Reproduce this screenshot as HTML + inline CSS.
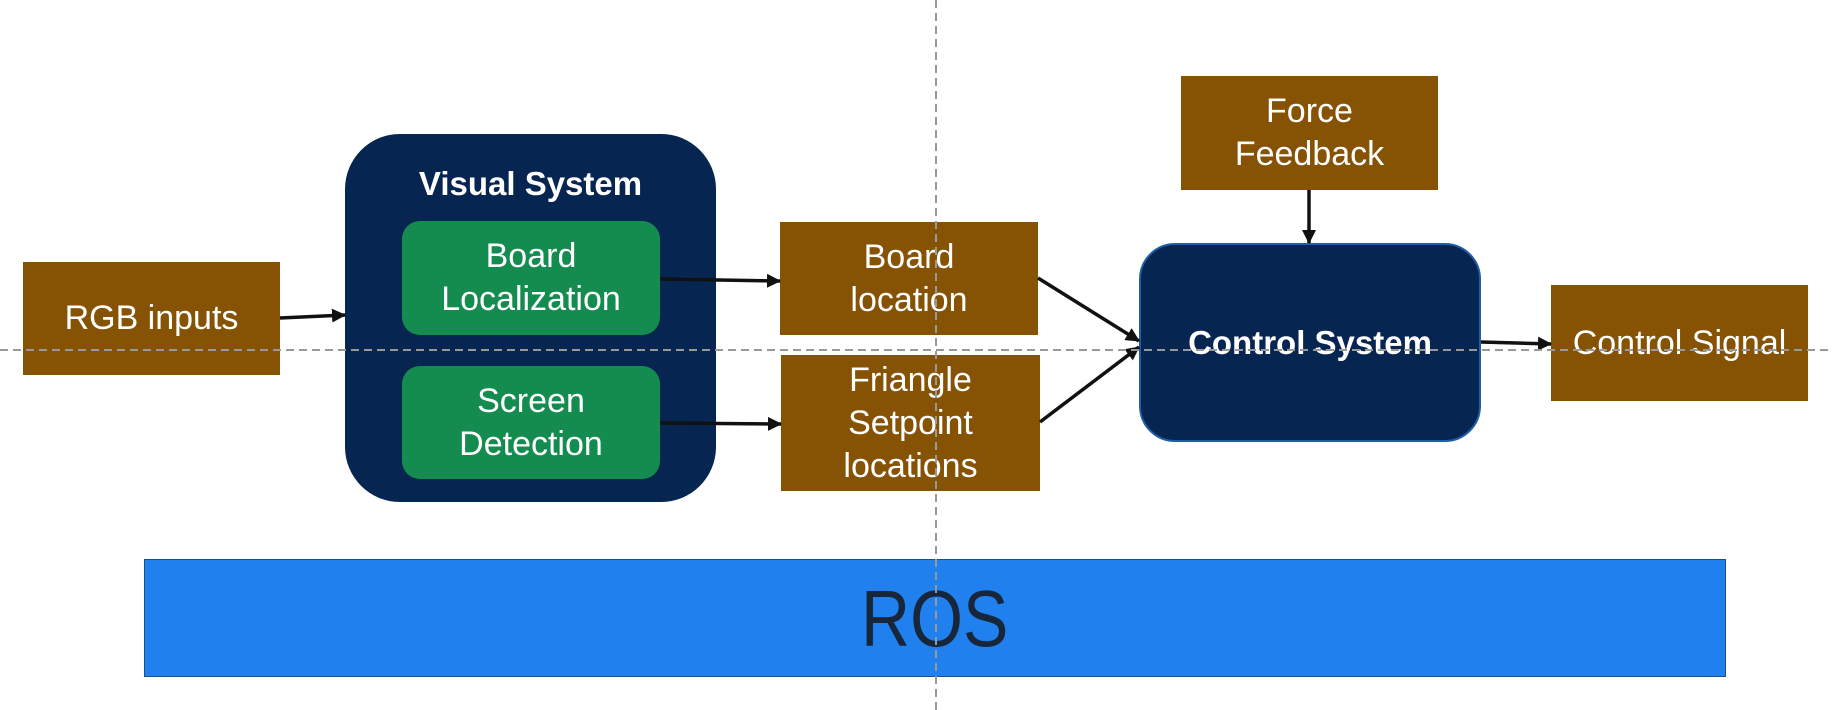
<!DOCTYPE html>
<html><head><style>
body{margin:0;width:1832px;height:710px;background:#fff;position:relative;overflow:hidden;font-family:"Liberation Sans",sans-serif}
.b{position:absolute;display:flex;align-items:center;justify-content:center;text-align:center;color:#fff;font-size:34px;line-height:43px;box-sizing:border-box}
.br{background:#865203}
.g{background:#148c50;border-radius:18px}
</style></head><body>
<div class="b" style="left:345px;top:134px;width:371px;height:368px;background:#062551;border-radius:55px;align-items:flex-start;padding-top:28px;font-weight:bold;font-size:33px">Visual System</div>
<div class="b br" style="left:23px;top:262px;width:257px;height:113px">RGB inputs</div>
<div class="b g" style="left:402px;top:221px;width:258px;height:114px">Board<br>Localization</div>
<div class="b g" style="left:402px;top:366px;width:258px;height:113px">Screen<br>Detection</div>
<div class="b br" style="left:780px;top:222px;width:258px;height:113px">Board<br>location</div>
<div class="b br" style="left:781px;top:355px;width:259px;height:136px">Friangle<br>Setpoint<br>locations</div>
<div class="b br" style="left:1181px;top:76px;width:257px;height:114px">Force<br>Feedback</div>
<div class="b" style="left:1139px;top:243px;width:342px;height:199px;background:#062551;border:2px solid #1f5fa8;border-radius:36px;font-weight:bold;font-size:33px">Control System</div>
<div class="b br" style="left:1551px;top:285px;width:257px;height:116px">Control Signal</div>
<div class="b" style="left:144px;top:559px;width:1582px;height:118px;background:#1f80ee;border:1px solid #1a4f8f;color:#17263a;font-size:80px"><span style="display:inline-block;transform:scaleX(0.85)">ROS</span></div>
<svg width="1832" height="710" style="position:absolute;left:0;top:0">
<defs><marker id="m" markerWidth="14" markerHeight="14" refX="13" refY="7" orient="auto" markerUnits="userSpaceOnUse"><path d="M0,0L14,7L0,14z" fill="#111"/></marker></defs>
<g stroke="#111" stroke-width="3.5" fill="none" marker-end="url(#m)">
<line x1="280" y1="318" x2="345" y2="315"/>
<line x1="660" y1="279" x2="780" y2="281"/>
<line x1="660" y1="423" x2="781" y2="424"/>
<line x1="1038" y1="278" x2="1139" y2="341"/>
<line x1="1040" y1="422" x2="1139" y2="347"/>
<line x1="1309" y1="190" x2="1309" y2="243"/>
<line x1="1481" y1="342" x2="1551" y2="344"/>
</g>
<line x1="0" y1="350" x2="1832" y2="350" stroke="#999" stroke-width="2" stroke-dasharray="8,5"/>
<line x1="936" y1="0" x2="936" y2="710" stroke="#999" stroke-width="2" stroke-dasharray="8,5"/>
</svg>
</body></html>
